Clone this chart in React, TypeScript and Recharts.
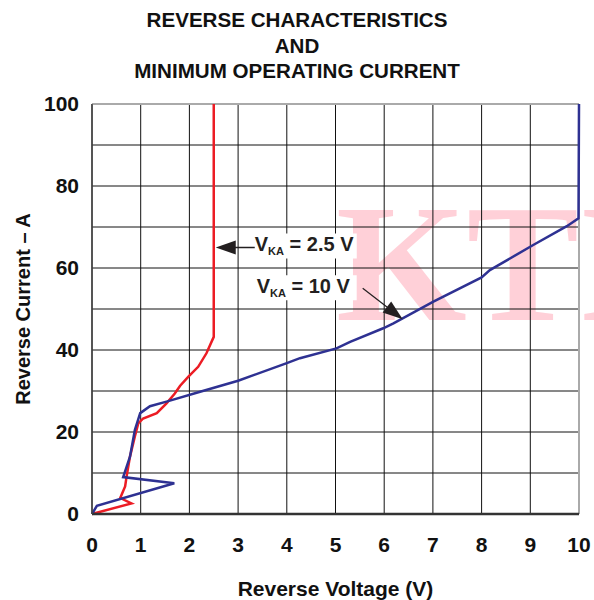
import {
  LineChart,
  Line,
  XAxis,
  YAxis,
  CartesianGrid,
  ReferenceDot,
  ReferenceLine,
} from "recharts";

// V_KA = 2.5 V curve (reverse voltage, reverse current)
const vka25Voltage = [0, 0.81, 0.58, 0.68, 0.71, 0.78, 0.88, 0.95, 1.05, 1.33, 1.53, 1.7, 1.81, 1.98, 2.18, 2.35, 2.5, 2.5];
const vka25Current = [0, 2.6, 3.9, 6.7, 9.1, 14, 18.9, 22.1, 23.3, 24.6, 27, 29.4, 31.3, 33.5, 35.9, 39.2, 43.2, 100];

// V_KA = 10 V curve
const vka10Voltage = [0, 0.1, 1.69, 0.64, 0.78, 0.88, 0.99, 1.19, 1.53, 2.22, 3.0, 4.0, 4.27, 5.02, 5.3, 5.98, 6.19, 7.01, 8.0, 8.17, 9.06, 9.75, 9.99, 10];
const vka10Current = [0, 2, 7.5, 9, 14, 20.5, 24.6, 26.3, 27.4, 29.8, 32.5, 36.8, 38, 40.4, 42, 45.3, 46.5, 51.8, 57.7, 59.5, 65.6, 70.2, 72.1, 100];

const xTicks = [0, 1, 2, 3, 4, 5, 6, 7, 8, 9, 10];
const yTicks = [0, 10, 20, 30, 40, 50, 60, 70, 80, 90, 100];
const yLabelEvery = 20;

const titleLines = ["REVERSE CHARACTERISTICS", "AND", "MINIMUM OPERATING CURRENT"];

const FONT = "'Liberation Sans', Arial, Helvetica, sans-serif";
const RED = "#ec1c24";
const BLUE = "#2e3192";
const INK = "#231f20";

const redData = vka25Voltage.map((v, k) => ({ v, i: vka25Current[k] }));
const blueData = vka10Voltage.map((v, k) => ({ v, i: vka10Current[k] }));

function VkaText({ x, y, value }: { x: number; y: number; value: string }) {
  return (
    <text x={x} y={y} fontFamily={FONT} fontWeight="bold" fontSize={20} fill={INK}>
      V
      <tspan fontSize={11} dy={4.5}>KA</tspan>
      <tspan dy={-4.5}>{` = ${value}`}</tspan>
    </text>
  );
}

// arrow pointing left at the red curve
function Callout25(props: any) {
  const { cx, cy } = props;
  return (
    <g>
      <rect x={cx + 38} y={cy - 14} width={105} height={25} fill="#fff" />
      <line x1={cx + 20} y1={cy} x2={cx + 41} y2={cy} stroke={INK} strokeWidth={1.5} />
      <polygon points={`${cx + 2},${cy} ${cx + 22},${cy - 7} ${cx + 22},${cy + 7}`} fill={INK} />
      <VkaText x={cx + 41} y={cy + 3} value="2.5 V" />
    </g>
  );
}

// arrow pointing down-right at the blue curve
function Callout10(props: any) {
  const { cx, cy } = props;
  const dx = 0.79;
  const dy = 0.612;
  const bx = cx - 20 * dx;
  const by = cy - 20 * dy;
  const px = -dy * 7;
  const py = dx * 7;
  return (
    <g>
      <rect x={cx - 150} y={cy - 44} width={104} height={25} fill="#fff" />
      <line x1={cx - 40} y1={cy - 31} x2={bx + 2} y2={by + 1.5} stroke={INK} strokeWidth={1.2} />
      <polygon points={`${cx},${cy} ${bx + px},${by + py} ${bx - px},${by - py}`} fill={INK} />
      <VkaText x={cx - 146} y={cy - 26.5} value="10 V" />
    </g>
  );
}

export default function App() {
  return (
    <div style={{ position: "absolute", left: 0, top: 0, width: 594, height: 600, background: "#fff" }}>
      <svg width={594} height={600} style={{ position: "absolute", left: 0, top: 0 }}>
        <text x={336} y={320} fontFamily="'Liberation Serif', 'DejaVu Serif', serif" fontWeight="bold" fontSize={168} fill="#ffd0d8">
          KTI
        </text>
      </svg>
      <div
        style={{
          position: "absolute",
          left: 0,
          top: 7,
          width: 594,
          textAlign: "center",
          fontFamily: FONT,
          fontWeight: "bold",
          fontSize: 20.6,
          lineHeight: "25.5px",
          color: "#111",
        }}
      >
        {titleLines.map((t) => (
          <div key={t}>{t}</div>
        ))}
      </div>
      <LineChart width={594} height={600} margin={{ top: 104, right: 15, bottom: 0, left: 0 }}>
        <CartesianGrid stroke="#111" strokeWidth={1} />
        <XAxis
          type="number"
          dataKey="v"
          domain={[0, 10]}
          ticks={xTicks}
          interval={0}
          height={86}
          tickSize={0}
          tickMargin={23}
          tick={{ fontFamily: FONT, fontWeight: "bold", fontSize: 21, fill: "#111" }}
          axisLine={{ stroke: "#333", strokeWidth: 2.5 }}
          label={{
            value: "Reverse Voltage (V)",
            position: "insideBottom",
            offset: 4,
            style: { fontFamily: FONT, fontWeight: "bold", fontSize: 21, fill: "#111" },
          }}
        />
        <YAxis
          type="number"
          dataKey="i"
          domain={[0, 100]}
          ticks={yTicks}
          interval={0}
          width={92}
          tickSize={0}
          tickMargin={13}
          tickFormatter={(val: number) => (val % yLabelEvery === 0 ? String(val) : "")}
          tick={{ fontFamily: FONT, fontWeight: "bold", fontSize: 21, fill: "#111" }}
          axisLine={{ stroke: "#444", strokeWidth: 1.5 }}
          label={{
            value: "Reverse Current \u2013 A",
            angle: -90,
            position: "insideLeft",
            offset: 23,
            style: { fontFamily: FONT, fontWeight: "bold", fontSize: 20, fill: "#111", textAnchor: "middle" },
          }}
        />
        <ReferenceLine y={100} stroke="#aaa" strokeWidth={2} />
        <ReferenceLine x={10} stroke="#aaa" strokeWidth={2} />
        <Line
          data={redData}
          dataKey="i"
          type="linear"
          stroke={RED}
          strokeWidth={2.5}
          dot={false}
          isAnimationActive={false}
        />
        <Line
          data={blueData}
          dataKey="i"
          type="linear"
          stroke={BLUE}
          strokeWidth={2.5}
          dot={false}
          isAnimationActive={false}
        />
        <ReferenceDot x={2.5} y={65} r={0} shape={(p: any) => <Callout25 {...p} />} />
        <ReferenceDot x={6.38} y={47.5} r={0} shape={(p: any) => <Callout10 {...p} />} />
      </LineChart>
    </div>
  );
}
